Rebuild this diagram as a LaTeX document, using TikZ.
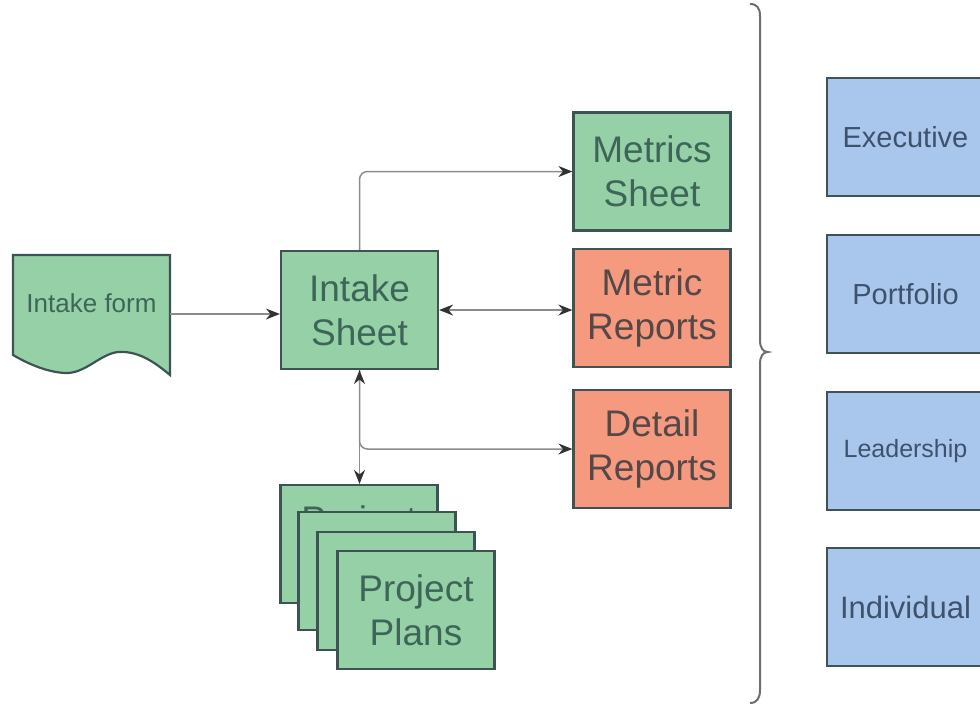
\documentclass[tikz,border=0pt]{standalone}
\usepackage{fontspec}
\setmainfont{Liberation Sans}
\usetikzlibrary{arrows.meta}
\definecolor{gfill}{RGB}{150,208,167}
\definecolor{rfill}{RGB}{246,154,127}
\definecolor{bfill}{RGB}{169,199,236}
\definecolor{edgec}{RGB}{62,84,84}
\definecolor{gtext}{RGB}{62,102,88}
\definecolor{rtext}{RGB}{84,72,72}
\definecolor{btext}{RGB}{62,82,110}
\definecolor{linec}{RGB}{140,140,140}
\definecolor{tipc}{RGB}{50,50,50}
\definecolor{bracec}{RGB}{110,110,110}
\begin{document}
\begin{tikzpicture}[x=0.5pt,y=-0.5pt,
 box/.style={draw=edgec, line width=1.1pt, minimum width=78.5pt, minimum height=59pt, inner sep=0pt, align=center, font=\fontsize{18.5}{22}\selectfont},
 gbox/.style={box, fill=gfill, text=gtext},
 rbox/.style={box, fill=rfill, text=rtext},
 bbox/.style={box, fill=bfill, text=btext},
 conn/.style={draw=linec, line width=0.75pt, -{Stealth[length=7pt,width=5.5pt,color=tipc]}},
 dconn/.style={draw=linec, line width=0.75pt, {Stealth[length=7pt,width=5.5pt,color=tipc]}-{Stealth[length=7pt,width=5.5pt,color=tipc]}},
]
\useasboundingbox (0,0) rectangle (980,709);
\clip (0,0) rectangle (980,709);

% intake form (document shape)
\filldraw[fill=gfill, draw=edgec, line width=1.1pt]
  (13,255) -- (170,255) -- (170,375)
  .. controls (150,358) and (135,351) .. (118,352)
  .. controls (100,354) and (85,374) .. (65,373)
  .. controls (45,372) and (25,362) .. (13,355) -- cycle;
\node[minimum width=78.5pt, minimum height=59pt, inner sep=0pt, text=gtext,
      font=\fontsize{13}{15}\selectfont] (form) at (91.5,314) {\raisebox{11pt}{Intake form}};

\node[gbox] (intake) at (359.5,310) {Intake\\Sheet};
\node[gbox] (metrics) at (652,171.5) {Metrics\\Sheet};
\node[rbox] (mreports) at (652,308) {Metric\\Reports};
\node[rbox] (dreports) at (652,449) {Detail\\Reports};

% project plans stack
\node[gbox] (plans1) at (359,544) {\raisebox{6pt}[0pt][0pt]{Project}};
\node[gbox] (plans2) at (377,571) {};
\node[gbox] (plans3) at (396,591) {};
\node[gbox] (plans4) at (416,610) {Project\\Plans};

% connectors
\draw[conn] (form.east) -- (form.east -| intake.west);
\draw[conn, rounded corners=4pt] (intake.north) |- (metrics.west);
\draw[dconn] (intake.east) -- (intake.east -| mreports.west);
\draw[conn, rounded corners=4pt] (intake.south) |- (dreports.west);
\draw[dconn] (intake.south) -- (intake.south |- plans1.north);

% brace
\draw[draw=bracec, line width=1pt]
  (750,4) .. controls (757,4) and (760,8) .. (760,16) -- (760,340)
  .. controls (760,348) and (763,352) .. (768,352)
  .. controls (763,352) and (760,356) .. (760,364) -- (760,690)
  .. controls (760,698) and (757,703) .. (750,703);

% audience boxes
\node[bbox, font=\fontsize{14.5}{17}\selectfont] (exec) at (905.5,137) {Executive};
\node[bbox, font=\fontsize{14.5}{17}\selectfont] (port) at (905.5,294) {Portfolio};
\node[bbox, font=\fontsize{12.5}{15}\selectfont] (lead) at (905.5,451) {Leadership};
\node[bbox, font=\fontsize{15.5}{18}\selectfont] (indiv) at (905.5,607) {Individual};
\end{tikzpicture}
\end{document}
